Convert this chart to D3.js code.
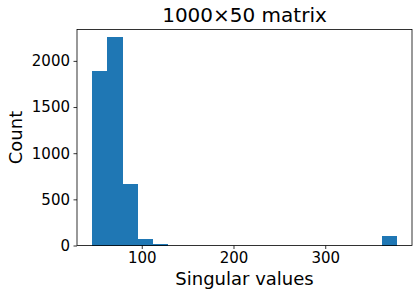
<!DOCTYPE html>
<html>
<head>
<meta charset="utf-8">
<script src="https://cdn.jsdelivr.net/npm/d3@7"></script>
<style>
  body { margin: 0; background: #fff; }
  svg { display: block; }
  text { font-family: "DejaVu Sans", sans-serif; fill: #000; }
</style>
</head>
<body>
<div id="chart"></div>
<script>
// histogram bins
const binEdges = [46, 62.6, 79.2, 95.8, 112.4, 129, 145.6, 162.2, 178.8, 195.4, 212,
                  228.6, 245.2, 261.8, 278.4, 295, 311.6, 328.2, 344.8, 361.4, 378];
const counts = [1895, 2255, 665, 70, 15, 0, 0, 0, 0, 0,
                0, 0, 0, 0, 0, 0, 0, 0, 0, 100];
const xTicks = [100, 200, 300];
const yTicks = [0, 500, 1000, 1500, 2000];
const yMax = 2340;

const W = 418, H = 296;
const margin = { top: 29.5, right: 6, bottom: 50.5, left: 77 };

const bins = counts.map((c, i) => ({ x0: binEdges[i], x1: binEdges[i + 1], n: c }));

const svg = d3.select('#chart')
  .append('svg')
  .attr('width', W)
  .attr('height', H);

const lo = binEdges[0], hi = binEdges[binEdges.length - 1];
const pad = (hi - lo) * 0.05;

const x = d3.scaleLinear()
  .domain([lo - pad, hi + pad])
  .range([margin.left, W - margin.right]);

const y = d3.scaleLinear()
  .domain([0, yMax])
  .range([H - margin.bottom, margin.top]);

// bars, crisp so neighbours don't show a seam
svg.append('g')
  .attr('shape-rendering', 'crispEdges')
  .selectAll('rect')
  .data(bins.filter(d => d.n > 0))
  .enter().append('rect')
  .attr('x', d => x(d.x0))
  .attr('width', d => x(d.x1) - x(d.x0))
  .attr('y', d => y(d.n))
  .attr('height', d => y(0) - y(d.n))
  .attr('fill', '#1f77b4');

// axes
const xAxis = svg.append('g')
  .attr('transform', `translate(0,${H - margin.bottom})`)
  .call(d3.axisBottom(x).tickValues(xTicks).tickFormat(d3.format('d')).tickSize(3.5).tickPadding(3.5));

const yAxis = svg.append('g')
  .attr('transform', `translate(${margin.left},0)`)
  .call(d3.axisLeft(y).tickValues(yTicks).tickFormat(d3.format('d')).tickSize(3.5).tickPadding(3.5));

[xAxis, yAxis].forEach(g => {
  g.select('.domain').remove();
  g.selectAll('.tick line').attr('stroke', '#000').attr('stroke-width', 0.8);
  g.selectAll('.tick text')
    .attr('font-family', '"DejaVu Sans", sans-serif')
    .attr('font-size', 15)
    .attr('fill', '#000');
});

// frame
svg.append('rect')
  .attr('x', margin.left)
  .attr('y', margin.top)
  .attr('width', W - margin.left - margin.right)
  .attr('height', H - margin.top - margin.bottom)
  .attr('fill', 'none')
  .attr('stroke', '#000')
  .attr('stroke-width', 0.8);

// labels
const cx = (margin.left + W - margin.right) / 2;

svg.append('text')
  .attr('x', cx)
  .attr('y', 22)
  .attr('text-anchor', 'middle')
  .attr('font-size', 20)
  .text('1000×50 matrix');

svg.append('text')
  .attr('x', cx)
  .attr('y', 285)
  .attr('text-anchor', 'middle')
  .attr('font-size', 18)
  .text('Singular values');

svg.append('text')
  .attr('transform', `translate(22,${(margin.top + H - margin.bottom) / 2}) rotate(-90)`)
  .attr('text-anchor', 'middle')
  .attr('font-size', 18)
  .text('Count');
</script>
</body>
</html>
